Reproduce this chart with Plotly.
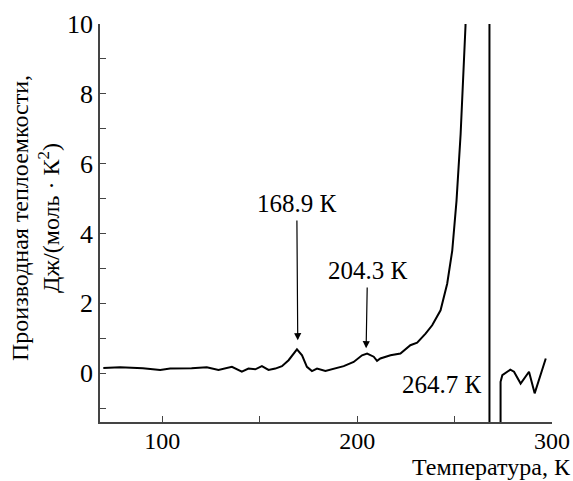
import plotly.graph_objects as go

# Main curve (below the transition)
temp_low = [69.7, 78.3, 90, 98.9, 104, 115, 122.8, 128.8, 135.7, 140.8, 144.2, 147.7, 151.1,
            154.5, 158, 161.4, 164.8, 169.1, 171.7, 174.2, 176.8, 179.4, 183.7, 187.9, 193.1,
            198.2, 202.5, 205.1, 208.5, 210.2, 211.9, 217.1, 222.2, 227.3, 230.8, 235.1, 238.5,
            242.8, 246.2, 248.8, 251, 253.1, 254.4, 255.6, 255.8]
dcp_low = [0.15, 0.17, 0.14, 0.09, 0.13, 0.14, 0.17, 0.09, 0.18, 0.04, 0.13, 0.11, 0.2,
           0.09, 0.13, 0.2, 0.37, 0.68, 0.51, 0.18, 0.06, 0.13, 0.06, 0.13, 0.2,
           0.32, 0.51, 0.56, 0.47, 0.35, 0.42, 0.51, 0.56, 0.8, 0.87, 1.13, 1.37,
           1.8, 2.56, 3.51, 4.94, 6.85, 8.28, 9.94, 10.5]

# Curve above the transition
temp_high = [273.6, 273.6, 274.5, 278.6, 280.5, 283.9, 288.2, 291.1, 296.8]
dcp_high = [-1.6, -0.25, -0.06, 0.1, 0.04, -0.3, 0.04, -0.58, 0.42]

transition_T = 267.9
peak_labels = ["168.9 К", "204.3 К", "264.7 К"]

FONT = "Liberation Serif"
W, H = 573, 481
ML, MR, MT, MB = 100, 21, 24, 59
PW, PH = W - ML - MR, H - MT - MB

fig = go.Figure()
fig.add_trace(go.Scatter(x=temp_low + [None] + temp_high, y=dcp_low + [None] + dcp_high,
                         mode="lines", line=dict(color="black", width=2), showlegend=False))

fig.add_shape(type="line", xref="x", yref="paper", x0=transition_T, x1=transition_T,
              y0=0, y1=1, line=dict(color="black", width=2))

# peak labels with vertical arrows
fig.add_annotation(x=169.5, y=0.94, ax=169.0, ay=4.86, xref="x", yref="y", axref="x", ayref="y",
                   text=peak_labels[0], showarrow=True, arrowhead=2, arrowsize=1.2,
                   arrowwidth=1.2, arrowcolor="black", standoff=0, startstandoff=2,
                   font=dict(family=FONT, size=25, color="black"))
fig.add_annotation(x=204.6, y=0.71, ax=205.3, ay=2.94, xref="x", yref="y", axref="x", ayref="y",
                   text=peak_labels[1], showarrow=True, arrowhead=2, arrowsize=1.2,
                   arrowwidth=1.2, arrowcolor="black", standoff=0, startstandoff=2,
                   font=dict(family=FONT, size=25, color="black"))
fig.add_annotation(x=265.0, y=-0.34, text=peak_labels[2], showarrow=False, xanchor="right",
                   font=dict(family=FONT, size=25, color="black"))

# axis titles
fig.add_annotation(xref="paper", yref="paper", x=(35 - ML) / PW, y=1 - (218 - MT) / PH,
                   xanchor="center", yanchor="middle", textangle=-90,
                   text="Производная теплоемкости,<br>Дж/(моль · К<sup>2</sup>)", showarrow=False,
                   font=dict(family=FONT, size=24, color="black"))
fig.add_annotation(xref="paper", yref="paper", x=(572 - ML) / PW, y=1 - (481 - MT) / PH,
                   xanchor="right", yanchor="bottom", borderpad=0,
                   text="Температура, К", showarrow=False,
                   font=dict(family=FONT, size=24, color="black"))

fig.update_layout(
    width=W, height=H, margin=dict(l=ML, r=MR, t=MT, b=MB, autoexpand=False),
    paper_bgcolor="white", plot_bgcolor="white",
    font=dict(family=FONT, size=24, color="black"),
    xaxis=dict(range=[68, 300], tick0=0, dtick=100, ticks="inside", ticklen=6, tickcolor="#444",
               automargin=False, ticklabelstandoff=-4, tickfont=dict(size=24),
               showgrid=False, zeroline=False, showline=True, linecolor="#444", linewidth=1.5,
               minor=dict(dtick=50, ticks="inside", ticklen=6, tickcolor="#444")),
    yaxis=dict(range=[-1.4, 10], tick0=0, dtick=2, ticks="inside", ticklen=6, tickcolor="#444",
               automargin=False, tickfont=dict(size=26),
               showgrid=False, zeroline=False, showline=True, linecolor="#444", linewidth=1.5,
               minor=dict(dtick=1, ticks="inside", ticklen=6, tickcolor="#444")),
)

fig.write_html("out.html", config={"displayModeBar": False})

with open("out.html", "r", encoding="utf-8") as f:
    html = f.read()
html = html.replace("<head>", "<head><style>html,body{margin:0;padding:0;overflow:hidden;}</style>", 1)
with open("out.html", "w", encoding="utf-8") as f:
    f.write(html)
